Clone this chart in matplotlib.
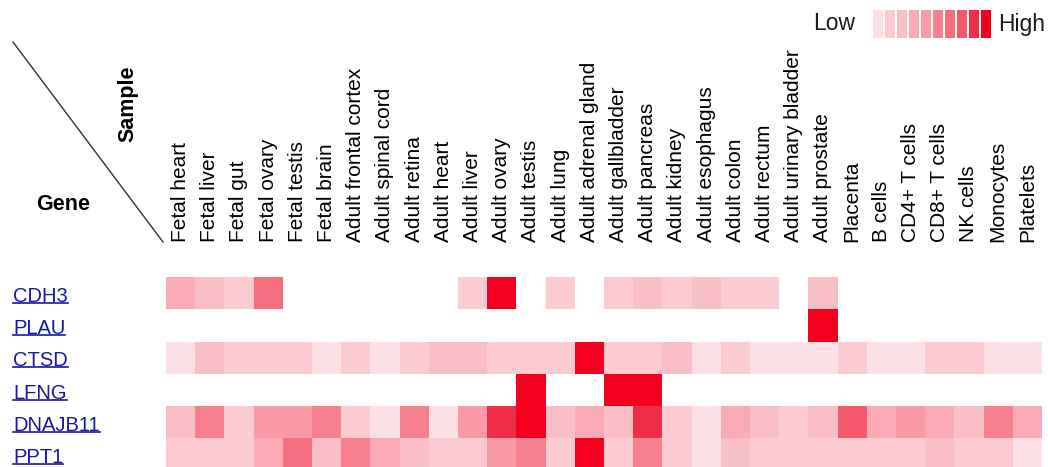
import numpy as np
import matplotlib
matplotlib.use("Agg")
from matplotlib import pyplot as plt
from matplotlib.colors import ListedColormap
from matplotlib.lines import Line2D
from matplotlib.transforms import blended_transform_factory

samples = ["Fetal heart", "Fetal liver", "Fetal gut", "Fetal ovary", "Fetal testis",
           "Fetal brain", "Adult frontal cortex", "Adult spinal cord", "Adult retina",
           "Adult heart", "Adult liver", "Adult ovary", "Adult testis", "Adult lung",
           "Adult adrenal gland", "Adult gallbladder", "Adult pancreas", "Adult kidney",
           "Adult esophagus", "Adult colon", "Adult rectum", "Adult urinary bladder",
           "Adult prostate", "Placenta", "B cells", "CD4+ T cells", "CD8+ T cells",
           "NK cells", "Monocytes", "Platelets"]
genes = ["CDH3", "PLAU", "CTSD", "LFNG", "DNAJB11", "PPT1"]

# expression level per sample: 0 = not shown, 1 = low ... 10 = high
cdh3 = [4, 3, 2, 7, 0, 0, 0, 0, 0, 0, 2, 10, 0, 2, 0, 2, 3, 2, 3, 2, 2, 0, 3, 0, 0, 0, 0, 0, 0, 0]
plau = [0, 0, 0, 0, 0, 0, 0, 0, 0, 0, 0, 0, 0, 0, 0, 0, 0, 0, 0, 0, 0, 0, 10, 0, 0, 0, 0, 0, 0, 0]
ctsd = [1, 3, 2, 2, 2, 1, 2, 1, 2, 3, 3, 2, 2, 2, 10, 2, 2, 3, 1, 2, 1, 1, 1, 2, 1, 1, 2, 2, 1, 1]
lfng = [0, 0, 0, 0, 0, 0, 0, 0, 0, 0, 0, 0, 10, 0, 0, 10, 10, 0, 0, 0, 0, 0, 0, 0, 0, 0, 0, 0, 0, 0]
dnajb11 = [3, 6, 2, 5, 5, 6, 2, 1, 6, 1, 5, 9, 10, 3, 4, 3, 9, 2, 1, 4, 3, 2, 3, 8, 4, 5, 4, 3, 6, 4]
ppt1 = [2, 2, 2, 4, 7, 3, 6, 4, 3, 2, 2, 5, 6, 2, 10, 2, 6, 2, 1, 3, 2, 2, 2, 2, 2, 2, 3, 2, 2, 1]

level_colors = ["#ffffff", "#fde0e5", "#fccbd2", "#f9bfc7", "#f9aab4", "#f99aa6",
                "#f7808f", "#f56e7f", "#f3586b", "#ef2d46", "#f5001e"]

plt.rcParams['font.family'] = ['Liberation Sans', 'DejaVu Sans']

W, H = 1048, 467
fig = plt.figure(figsize=(W / 100, H / 100), dpi=100)

data = np.array([cdh3, plau, ctsd, lfng, dnajb11, ppt1])
ax = fig.add_axes([166 / W, 0, (1042 - 166) / W, (H - 277) / H])
ax.imshow(data, cmap=ListedColormap(level_colors), vmin=-0.5, vmax=10.5,
          aspect='auto', interpolation='nearest')
ax.set_xlim(-0.5, len(samples) - 0.5)
ax.set_ylim(-0.5 + (H - 277) / 32.3, -0.5)
ax.xaxis.tick_top()
ax.set_xticks(range(len(samples)))
ax.set_xticklabels(samples, rotation=90, fontsize=15)
ax.tick_params(axis='x', length=0, pad=25)
ax.set_yticks([])
for s in ax.spines.values():
    s.set_visible(False)

# gene names as blue underlined links
tr = blended_transform_factory(fig.transFigure, ax.transData)
labels = []
for i, g in enumerate(genes):
    labels.append(ax.text(13 / W, i + 0.1, g, transform=tr, va='center', ha='left',
                          fontsize=14.5, color='#1818a8', clip_on=False))
fig.canvas.draw()
for t in labels:
    bb = t.get_window_extent()
    y = bb.y0 + 3
    fig.add_artist(Line2D([bb.x0 / W, bb.x1 / W], [y / H, y / H],
                          transform=fig.transFigure, color='#1818a8', lw=1.2))

# header corner
fig.add_artist(Line2D([13 / W, 163 / W], [1 - 42 / H, 1 - 242 / H],
                      transform=fig.transFigure, color='#333333', lw=1))
fig.text(128 / W, 1 - 104 / H, "Sample", rotation=90, ha='center', va='center',
         fontsize=15.5, fontweight='bold')
fig.text(63 / W, 1 - 204 / H, "Gene", ha='center', va='center',
         fontsize=15.5, fontweight='bold')

# Low-High legend
lax = fig.add_axes([872 / W, 1 - 38 / H, 120 / W, 28 / H])
lax.bar(range(10), np.ones(10), width=0.8, color=level_colors[1:])
lax.set_xlim(-0.5, 9.5)
lax.set_ylim(0, 1)
lax.axis('off')
fig.text(855 / W, 1 - 24 / H, "Low", ha='right', va='center', fontsize=16.5, color='#1a1a1a')
fig.text(998 / W, 1 - 24 / H, "High", ha='left', va='center', fontsize=16.5, color='#1a1a1a')

fig.savefig("out.png", dpi=100)
